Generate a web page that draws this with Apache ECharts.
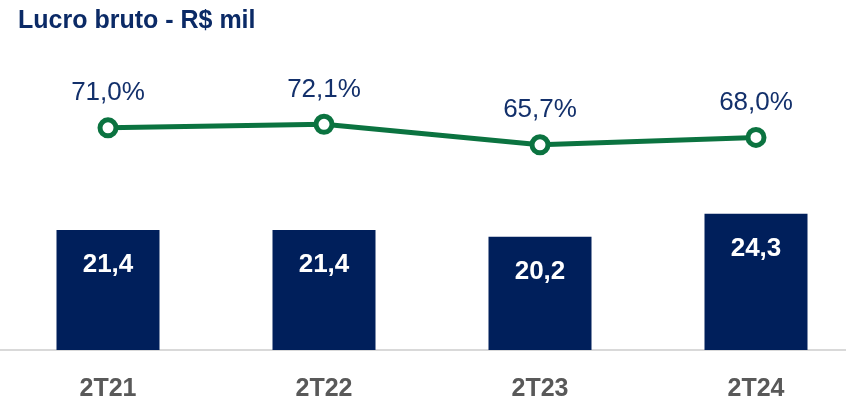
<!DOCTYPE html>
<html>
<head>
<meta charset="utf-8">
<script src="https://cdn.jsdelivr.net/npm/echarts@6/dist/echarts.min.js"></script>
<style>
html,body{margin:0;padding:0;background:#fff;}
#chart{width:846px;height:402px;}
</style>
</head>
<body>
<div id="chart"></div>
<script>
var categories = ['2T21', '2T22', '2T23', '2T24'];
var grossProfit = [21.4, 21.4, 20.2, 24.3];
var grossMargin = [71.0, 72.1, 65.7, 68.0];
var titleText = 'Lucro bruto - R$ mil';

function fmt(v, suffix) {
  return v.toFixed(1).replace('.', ',') + (suffix || '');
}

var chart = echarts.init(document.getElementById('chart'), null, {renderer: 'canvas'});
chart.setOption({
  animation: false,
  backgroundColor: '#ffffff',
  title: {
    text: titleText,
    left: 13,
    top: 4,
    textStyle: {
      fontFamily: 'Liberation Sans, Arial, sans-serif',
      fontWeight: 'bold',
      fontSize: 25,
      color: '#0B2A66'
    }
  },
  grid: {left: 0, right: -18, top: 50, bottom: 52, containLabel: false, outerBoundsMode: 'none'},
  xAxis: {
    type: 'category',
    data: categories,
    axisLine: {show: true, lineStyle: {color: '#D9D9D9', width: 2}},
    axisTick: {show: false},
    axisLabel: {
      margin: 27,
      fontFamily: 'Liberation Sans, Arial, sans-serif',
      fontWeight: 'bold',
      fontSize: 25,
      color: '#595959'
    }
  },
  yAxis: [
    {type: 'value', min: 0, max: 53.48, show: false, splitLine: {show: false}},
    {type: 'value', min: 1.6, max: 95.3, show: false, splitLine: {show: false}}
  ],
  series: [
    {
      type: 'bar',
      data: grossProfit,
      yAxisIndex: 0,
      barWidth: 103,
      itemStyle: {color: '#001F5B'},
      label: {
        show: true,
        position: 'insideTop',
        distance: 22,
        formatter: function (p) { return fmt(p.value); },
        fontFamily: 'Liberation Sans, Arial, sans-serif',
        fontWeight: 'bold',
        fontSize: 26,
        color: '#ffffff'
      }
    },
    {
      type: 'line',
      data: grossMargin,
      yAxisIndex: 1,
      symbol: 'circle',
      symbolSize: 16,
      lineStyle: {color: '#0B7340', width: 5},
      itemStyle: {color: '#ffffff', borderColor: '#0B7340', borderWidth: 5},
      label: {
        show: true,
        position: 'top',
        distance: 11,
        formatter: function (p) { return fmt(p.value, '%'); },
        fontFamily: 'Liberation Sans, Arial, sans-serif',
        fontSize: 26,
        color: '#13306B'
      },
      z: 5
    }
  ]
});
</script>
</body>
</html>
